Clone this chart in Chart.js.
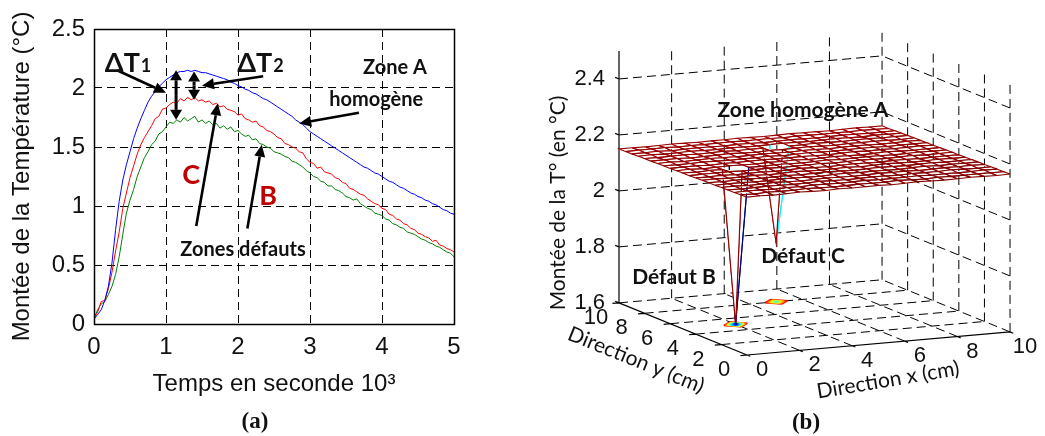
<!DOCTYPE html>
<html><head><meta charset="utf-8">
<script src="https://cdn.jsdelivr.net/npm/chart.js@4.4.1/dist/chart.umd.min.js"></script>
<style>
html,body{margin:0;padding:0;background:#fff;}
#wrap{position:relative;width:1045px;height:436px;overflow:hidden;background:#fff;}
#c1{position:absolute;left:0;top:0;}
#c2{position:absolute;left:520px;top:0;}
.lab{position:absolute;font-family:'Liberation Serif','Times New Roman',serif;font-weight:bold;font-size:23px;color:#111;transform:translate(-50%,-50%);white-space:nowrap;}
</style></head>
<body><div id="wrap">
<canvas id="c1" width="520" height="436"></canvas>
<canvas id="c2" width="525" height="436"></canvas>
<div class="lab" style="left:255px;top:421px">(a)</div>
<div class="lab" style="left:806px;top:422px">(b)</div>
</div>
<script>
// ---------- (a) data ----------
const timeK = [0,0.05,0.1,0.15,0.2,0.25,0.3,0.35,0.4,0.45,0.5,0.55,0.6,0.65,0.7,0.75,0.8,0.85,0.9,0.95,
1,1.05,1.1,1.15,1.2,1.25,1.3,1.35,1.4,1.45,1.5,1.55,1.6,1.65,1.7,1.75,1.8,1.85,1.9,1.95,
2,2.05,2.1,2.15,2.2,2.25,2.3,2.35,2.4,2.45,2.5,2.55,2.6,2.65,2.7,2.75,2.8,2.85,2.9,2.95,
3,3.05,3.1,3.15,3.2,3.25,3.3,3.35,3.4,3.45,3.5,3.55,3.6,3.65,3.7,3.75,3.8,3.85,3.9,3.95,
4,4.05,4.1,4.15,4.2,4.25,4.3,4.35,4.4,4.45,4.5,4.55,4.6,4.65,4.7,4.75,4.8,4.85,4.9,4.95,5];
const zoneA = [0.04,0.08,0.12,0.20,0.32,0.52,0.80,1.04,1.22,1.35,
1.46,1.57,1.66,1.74,1.81,1.88,1.93,1.97,2.01,2.04,
2.07,2.09,2.11,2.13,2.14,2.14,2.15,2.14,2.15,2.14,
2.13,2.13,2.12,2.11,2.10,2.09,2.08,2.07,2.05,2.04,
2.02,2.01,1.99,1.98,1.96,1.95,1.93,1.91,1.90,1.88,
1.86,1.84,1.82,1.80,1.78,1.76,1.73,1.71,1.69,1.66,
1.63,1.61,1.59,1.57,1.55,1.53,1.51,1.49,1.47,1.45,
1.43,1.41,1.39,1.37,1.35,1.33,1.32,1.30,1.28,1.27,
1.25,1.23,1.21,1.20,1.18,1.16,1.15,1.13,1.11,1.10,
1.08,1.07,1.05,1.04,1.02,1.01,0.99,0.97,0.96,0.94,
0.93];
const zoneC = [0.05,0.10,0.19,0.20,0.30,0.44,0.62,0.78,0.98,1.11,
1.24,1.34,1.44,1.52,1.58,1.63,1.68,1.74,1.76,1.82,
1.83,1.86,1.88,1.87,1.91,1.89,1.92,1.90,1.92,1.89,
1.90,1.88,1.89,1.86,1.87,1.84,1.85,1.82,1.81,1.80,
1.77,1.78,1.74,1.73,1.71,1.72,1.68,1.67,1.64,1.63,
1.61,1.58,1.57,1.53,1.52,1.50,1.49,1.46,1.45,1.40,
1.37,1.36,1.32,1.33,1.29,1.28,1.27,1.24,1.23,1.20,
1.19,1.15,1.14,1.12,1.10,1.09,1.06,1.04,1.02,1.01,
0.98,0.97,0.93,0.92,0.89,0.88,0.85,0.84,0.81,0.80,
0.77,0.76,0.74,0.73,0.70,0.71,0.67,0.66,0.64,0.63,
0.61];
const zoneB = [0.05,0.12,0.17,0.19,0.25,0.32,0.42,0.57,0.76,0.94,
1.05,1.14,1.25,1.33,1.41,1.46,1.52,1.55,1.61,1.63,
1.67,1.71,1.70,1.73,1.71,1.75,1.72,1.74,1.76,1.71,
1.73,1.70,1.72,1.69,1.70,1.66,1.68,1.65,1.67,1.63,
1.64,1.61,1.59,1.60,1.56,1.57,1.53,1.52,1.50,1.49,
1.46,1.45,1.44,1.42,1.41,1.38,1.37,1.35,1.33,1.30,
1.28,1.25,1.24,1.21,1.20,1.17,1.17,1.14,1.13,1.11,
1.08,1.07,1.05,1.06,1.02,1.00,0.98,0.97,0.94,0.93,
0.92,0.89,0.88,0.85,0.84,0.82,0.81,0.78,0.77,0.76,
0.74,0.72,0.71,0.69,0.68,0.66,0.65,0.63,0.61,0.60,
0.57];
const xTicksA = [0,1,2,3,4,5];
const yTicksA = [0,0.5,1,1.5,2,2.5];

// annotations (a), data coordinates
const arrowTails = [[0.32,2.15],[2.35,2.10],[3.68,1.79],[1.42,0.83],[2.13,0.81]];
const arrowHeads = [[1.00,1.96],[1.50,2.02],[2.85,1.70],[1.72,1.87],[2.33,1.52]];
const dblArrows = [[1.14,2.15,1.73],[1.39,2.14,1.90]];

// ---------- (b) data ----------
const gridX = [0,2,4,6,8,10];
const gridY = [0,2,4,6,8,10];
const gridZ = [1.6,1.8,2.0,2.2,2.4];
const zFloor = 1.6, zTop = 2.5;
const meshX = [0,0.5,1,1.5,2,2.5,3,3.5,4,4.5,5,5.5,6,6.5,7,7.5,8,8.5,9,9.5,10];
const meshY = [0,0.5,1,1.5,2,2.5,3,3.5,4,4.5,5,5.5,6,6.5,7,7.5,8,8.5,9,9.5,10];
const surfZ = [
[2.164,2.165,2.163,2.164,2.166,2.164,2.163,2.165,2.164,2.164,2.165,2.163,2.164,2.166,2.164,2.163,2.164,2.165,2.164,2.163,2.164],
[2.163,2.162,2.164,2.163,2.163,2.165,2.163,2.162,2.163,2.164,2.163,2.163,2.165,2.163,2.162,2.164,2.163,2.163,2.164,2.163,2.163],
[2.162,2.163,2.163,2.161,2.163,2.162,2.164,2.163,2.162,2.163,2.164,2.162,2.163,2.163,2.164,2.162,2.163,2.162,2.163,2.164,2.163],
[2.162,2.161,2.162,2.163,2.162,2.161,2.162,2.164,2.162,2.161,2.162,2.163,2.162,2.161,2.163,2.162,2.162,2.164,2.162,2.161,2.162],
[2.161,2.162,2.160,2.161,2.163,2.161,2.160,2.161,2.162,2.161,2.160,2.161,2.163,2.161,2.162,2.160,2.161,2.162,2.161,2.162,2.161],
[2.160,2.161,2.161,2.159,2.160,2.162,2.161,2.160,2.159,2.161,2.162,2.160,2.161,2.160,2.159,2.161,2.162,2.160,2.161,2.160,2.161],
[2.160,2.159,2.160,2.161,2.159,2.160,2.161,2.159,2.160,2.162,2.160,2.159,2.160,2.161,2.160,2.159,2.160,2.161,2.159,2.160,2.160],
[2.159,2.160,2.158,2.159,2.160,2.158,2.159,2.161,2.159,2.158,2.159,2.160,2.158,2.159,2.161,2.159,2.158,2.159,2.160,2.159,2.159],
[2.158,2.158,2.159,2.157,2.158,2.159,2.157,2.158,2.160,2.158,2.157,2.158,2.159,2.158,2.157,2.159,2.158,2.157,2.158,2.159,2.158],
[2.157,2.158,2.158,2.159,2.157,2.158,2.159,2.157,2.158,2.158,2.159,2.157,2.158,2.159,2.158,2.157,2.158,2.159,2.157,2.158,2.158],
[2.157,2.156,2.158,2.157,1.600,2.157,2.156,2.158,2.157,2.156,2.157,2.158,2.156,2.157,2.158,2.157,2.156,2.157,2.158,2.157,2.157],
[2.156,2.157,2.155,2.156,2.157,2.156,2.155,2.157,2.156,2.157,2.155,2.156,2.157,2.156,2.155,2.156,2.158,2.156,2.155,2.156,2.156],
[2.155,2.156,2.156,2.154,2.156,2.155,2.156,2.157,2.155,2.156,2.156,2.155,2.154,2.156,2.157,2.155,2.156,2.155,2.156,2.157,2.155],
[2.155,2.154,2.155,2.156,2.155,2.154,2.155,2.155,2.156,2.154,2.155,2.156,2.155,2.154,2.155,2.156,2.155,2.154,2.155,2.155,2.155],
[2.154,2.155,2.153,2.154,2.155,2.154,2.153,2.154,2.155,2.154,2.153,2.155,2.154,2.153,2.154,2.155,2.154,2.153,2.154,2.155,2.154],
[2.153,2.154,2.154,2.152,2.153,2.154,2.155,2.153,2.152,2.154,2.153,2.154,2.155,2.153,2.152,2.154,2.153,2.154,2.153,2.152,2.154],
[2.153,2.152,2.153,2.154,2.152,2.153,2.154,2.152,2.153,2.153,1.810,2.152,2.153,2.154,2.153,2.152,2.153,2.154,2.152,2.153,2.153],
[2.152,2.153,2.151,2.152,2.153,2.152,2.151,2.153,2.152,2.151,2.152,2.153,2.152,2.151,2.152,2.153,2.152,2.151,2.153,2.152,2.152],
[2.151,2.151,2.152,2.150,2.151,2.152,2.151,2.150,2.152,2.151,2.150,2.151,2.152,2.151,2.150,2.151,2.152,2.151,2.150,2.151,2.151],
[2.150,2.151,2.151,2.152,2.150,2.151,2.150,2.151,2.152,2.150,2.151,2.151,2.150,2.152,2.151,2.150,2.151,2.150,2.152,2.151,2.150],
[2.150,2.150,2.149,2.150,2.151,2.150,2.149,2.150,2.150,2.151,2.150,2.149,2.150,2.151,2.150,2.150,2.149,2.150,2.151,2.150,2.150]];
const contourLevels = [1.65,1.70,1.75,1.80,1.85,1.90,1.95,2.00,2.05,2.10];
const colorRange = [1.6, 2.166];

// ---------- chart (a) ----------
const SANS = "'Liberation Sans', Arial, sans-serif";
const CAL = "Lato, 'Open Sans', sans-serif";
const INK = '#111';

function arrow(ctx, x1, y1, x2, y2, hl, hw) {
  const a = Math.atan2(y2 - y1, x2 - x1);
  const bx = x2 - hl * Math.cos(a), by = y2 - hl * Math.sin(a);
  ctx.beginPath(); ctx.moveTo(x1, y1); ctx.lineTo(bx, by); ctx.stroke();
  ctx.beginPath(); ctx.moveTo(x2, y2);
  ctx.lineTo(bx + hw * Math.sin(a), by - hw * Math.cos(a));
  ctx.lineTo(bx - hw * Math.sin(a), by + hw * Math.cos(a));
  ctx.closePath(); ctx.fill();
}

const annoA = {
  id: 'annoA',
  afterDatasetsDraw(chart) {
    const {ctx, chartArea: a, scales: {x, y}} = chart;
    ctx.save();
    ctx.strokeStyle = '#000'; ctx.lineWidth = 1.5; ctx.setLineDash([]);
    ctx.strokeRect(Math.round(a.left) + 0.5, Math.round(a.top) + 0.5, Math.round(a.right - a.left), Math.round(a.bottom - a.top));
    ctx.fillStyle = '#000'; ctx.strokeStyle = '#000'; ctx.lineWidth = 2.6; ctx.lineCap = 'butt';
    arrowTails.forEach((t, i) => {
      const h = arrowHeads[i];
      arrow(ctx, x.getPixelForValue(t[0]), y.getPixelForValue(t[1]), x.getPixelForValue(h[0]), y.getPixelForValue(h[1]), 12, 5.5);
    });
    ctx.lineWidth = 3;
    dblArrows.forEach(d => {
      const X = x.getPixelForValue(d[0]), Y1 = y.getPixelForValue(d[1]), Y2 = y.getPixelForValue(d[2]);
      const m = (Y1 + Y2) / 2;
      arrow(ctx, X, m, X, Y1, 10, 6);
      arrow(ctx, X, m, X, Y2, 10, 6);
    });
    ctx.fillStyle = INK; ctx.textBaseline = 'alphabetic'; ctx.textAlign = 'left';
    const dT = (label, sub, t, v) => {
      const X = x.getPixelForValue(t), Y = y.getPixelForValue(v);
      ctx.font = 'bold 27px ' + CAL; ctx.fillText(label, X, Y);
      const w = ctx.measureText(label).width;
      ctx.font = 'bold 18px ' + CAL; ctx.fillText(sub, X + w + 1, Y);
    };
    dT('ΔT', '1', 0.15, 2.135);
    dT('ΔT', '2', 1.99, 2.135);
    ctx.textAlign = 'center'; ctx.textBaseline = 'middle';
    ctx.font = 'bold 20px ' + CAL;
    ctx.fillText('Zone A', x.getPixelForValue(4.18), y.getPixelForValue(2.17));
    ctx.fillText('homogène', x.getPixelForValue(3.92), y.getPixelForValue(1.90));
    ctx.fillText('Zones défauts', x.getPixelForValue(2.07), y.getPixelForValue(0.63));
    ctx.fillStyle = '#c00000'; ctx.font = 'bold 27px ' + CAL;
    ctx.fillText('C', x.getPixelForValue(1.35), y.getPixelForValue(1.26));
    ctx.fillText('B', x.getPixelForValue(2.42), y.getPixelForValue(1.08));
    ctx.restore();
  }
};

const mk = (arr) => timeK.map((t, i) => ({x: t, y: arr[i]}));
new Chart(document.getElementById('c1'), {
  type: 'line',
  data: {datasets: [
    {label: 'Zone A homogène', data: mk(zoneA), borderColor: '#0000ff', borderWidth: 1, pointRadius: 0, tension: 0},
    {label: 'Défaut C', data: mk(zoneC), borderColor: '#ff0000', borderWidth: 1, pointRadius: 0, tension: 0},
    {label: 'Défaut B', data: mk(zoneB), borderColor: '#008000', borderWidth: 1, pointRadius: 0, tension: 0}
  ]},
  options: {
    responsive: false, animation: false, devicePixelRatio: 1,
    layout: {padding: {left: 0, right: 66, top: 29, bottom: 0}},
    plugins: {legend: {display: false}, tooltip: {enabled: false}},
    scales: {
      x: {type: 'linear', min: 0, max: 5,
        afterBuildTicks: s => { s.ticks = xTicksA.map(v => ({value: v})); },
        afterFit: s => { s.height = 112; },
        ticks: {padding: 9, color: INK, font: {family: SANS, size: 24}, callback: v => String(v), maxRotation: 0},
        grid: {color: '#000', lineWidth: 1, drawTicks: false},
        border: {display: false, dash: [8, 5]},
        title: {display: true, text: 'Temps en seconde 10³', color: INK, font: {family: SANS, size: 24}, padding: {top: 0, bottom: 37}}
      },
      y: {type: 'linear', min: 0, max: 2.5,
        afterBuildTicks: s => { s.ticks = yTicksA.map(v => ({value: v})); },
        afterFit: s => { s.width = 94; },
        ticks: {padding: 9, color: INK, font: {family: SANS, size: 24}, callback: v => String(v)},
        grid: {color: '#000', lineWidth: 1, drawTicks: false},
        border: {display: false, dash: [8, 5]},
        title: {display: true, text: 'Montée de la Température (°C)', color: INK, font: {family: SANS, size: 24}, padding: {top: 8, bottom: 0}}
      }
    }
  },
  plugins: [annoA]
});

// ---------- chart (b) : 3D projection ----------
const AZ = 24.9 * Math.PI / 180, EL = 10.9 * Math.PI / 180;
const SX = 29.0, SY = 30.4, SZ = 285;
const CA = Math.cos(AZ), SA = Math.sin(AZ), CE = Math.cos(EL), SE = Math.sin(EL);
function proj(x, y, z) {
  return {x: SX * x * CA - SY * y * SA, y: (SX * x * SA + SY * y * CA) * SE + SZ * (z - zFloor) * CE};
}
function jet(v) {
  let t = (v - colorRange[0]) / (colorRange[1] - colorRange[0]);
  t = Math.max(0, Math.min(1, t));
  const c = q => Math.round(255 * Math.max(0, Math.min(1, 1.5 - Math.abs(4 * t - q))));
  return 'rgb(' + c(3) + ',' + c(2) + ',' + c(1) + ')';
}
function segData(list) {
  const d = [];
  list.forEach(([a, b]) => { const p = proj(...a), q = proj(...b); d.push(p, q, {x: q.x, y: null}); });
  return d;
}
const xMax = gridX[gridX.length - 1], yMax = gridY[gridY.length - 1];
const dashed = [];
gridX.slice(1, -1).forEach(g => dashed.push([[g, 0, zFloor], [g, yMax, zFloor]]));
gridY.slice(1, -1).forEach(g => dashed.push([[0, g, zFloor], [xMax, g, zFloor]]));
gridX.slice(1).forEach(g => dashed.push([[g, yMax, zFloor], [g, yMax, zTop]]));
gridY.slice(0, -1).forEach(g => dashed.push([[xMax, g, zFloor], [xMax, g, zTop]]));
gridZ.forEach(g => { dashed.push([[0, yMax, g], [xMax, yMax, g]]); dashed.push([[xMax, 0, g], [xMax, yMax, g]]); });
const solid = [
  [[0, yMax, zFloor], [0, yMax, zTop]],
  [[0, yMax, zFloor], [0, 0, zFloor]],
  [[0, 0, zFloor], [xMax, 0, zFloor]]
];
gridZ.forEach(g => solid.push([[0, yMax, g], [0, yMax + 0.3, g]]));
gridY.forEach(g => solid.push([[0, g, zFloor], [-0.25, g, zFloor]]));
gridX.forEach(g => solid.push([[g, 0, zFloor], [g, -0.25, zFloor]]));

const ds = [];
ds.push({data: segData(dashed), borderColor: '#000', borderWidth: 1, borderDash: [9, 5], pointRadius: 0, spanGaps: false, order: 1000000, fill: false});
ds.push({data: segData(solid), borderColor: '#000', borderWidth: 1.2, pointRadius: 0, spanGaps: false, order: 999999, fill: false});

// floor contours
contourLevels.forEach(L => {
  const d = [];
  for (let j = 0; j < meshY.length - 1; j++) for (let i = 0; i < meshX.length - 1; i++) {
    const E = [[[i, j], [i + 1, j]], [[i + 1, j], [i + 1, j + 1]], [[i, j + 1], [i + 1, j + 1]], [[i, j], [i, j + 1]]];
    const pts = [];
    E.forEach(([a, b]) => {
      const za = surfZ[a[1]][a[0]], zb = surfZ[b[1]][b[0]];
      if ((za - L) * (zb - L) < 0) {
        const t = (L - za) / (zb - za);
        pts.push(proj(meshX[a[0]] + t * (meshX[b[0]] - meshX[a[0]]), meshY[a[1]] + t * (meshY[b[1]] - meshY[a[1]]), zFloor));
      }
    });
    for (let k = 0; k + 1 < pts.length; k += 2) d.push(pts[k], pts[k + 1], {x: pts[k + 1].x, y: null});
  }
  ds.push({data: d, borderColor: jet(L), borderWidth: 1.6, pointRadius: 0, spanGaps: false, order: 999990, fill: false});
});

// surface mesh as white quads, painter's order
const quads = [];
for (let j = 0; j < meshY.length - 1; j++) for (let i = 0; i < meshX.length - 1; i++) {
  const P = [[i, j], [i + 1, j], [i + 1, j + 1], [i, j + 1], [i, j]];
  const pts = P.map(([a, b]) => proj(meshX[a], meshY[b], surfZ[b][a]));
  const cols = [jet(surfZ[j][i]), jet(surfZ[j][i + 1]), jet(surfZ[j + 1][i]), jet(surfZ[j][i])];
  const depth = SX * (meshX[i] + meshX[i + 1]) / 2 * SA + SY * (meshY[j] + meshY[j + 1]) / 2 * CA;
  quads.push({pts, cols, depth});
}
quads.sort((a, b) => a.depth - b.depth);
quads.forEach((q, k) => ds.push({
  data: q.pts, order: k, fill: 'shape', backgroundColor: '#ffffff', borderColor: q.cols[0], borderWidth: 1.1,
  segment: {borderColor: c => q.cols[c.p0DataIndex]}, pointRadius: 0, tension: 0
}));

const textB = {
  id: 'textB',
  afterDraw(chart) {
    const {ctx, scales: {x: sx, y: sy}} = chart;
    const px = p => [sx.getPixelForValue(p.x), sy.getPixelForValue(p.y)];
    ctx.save(); ctx.fillStyle = INK;
    ctx.font = '22px ' + SANS; ctx.textBaseline = 'middle';
    ctx.textAlign = 'right';
    gridZ.forEach(z => { const [X, Y] = px(proj(0, yMax, z)); ctx.fillText(String(z), X - 14, Y); });
    ctx.textAlign = 'center';
    gridY.forEach(v => { const [X, Y] = px(proj(0, v, zFloor)); ctx.fillText(String(v), X - 23, Y + 15); });
    gridX.forEach(v => { const [X, Y] = px(proj(v, 0, zFloor)); ctx.fillText(String(v), X + 15, Y + 15); });
    const rot = (txt, cx, cy, ang, font) => {
      ctx.save(); ctx.translate(cx, cy); ctx.rotate(ang * Math.PI / 180); ctx.font = font; ctx.fillText(txt, 0, 0); ctx.restore();
    };
    rot('Direction y (cm)', 116, 360, 22, '21px ' + CAL);
    rot('Direction x (cm)', 368, 380, -9.5, '21px ' + CAL);
    rot('Montée de la T° (en °C)', 38, 203, -90, '21px ' + CAL);
    ctx.font = 'bold 21px ' + CAL;
    ctx.fillText('Zone homogène A', 283, 110);
    ctx.fillText('Défaut B', 154, 277);
    ctx.fillText('Défaut C', 283, 256);
    ctx.restore();
  }
};

new Chart(document.getElementById('c2'), {
  type: 'line',
  data: {datasets: ds},
  options: {
    responsive: false, animation: false, devicePixelRatio: 1,
    layout: {padding: 0},
    plugins: {legend: {display: false}, tooltip: {enabled: false}},
    elements: {line: {tension: 0}},
    scales: {
      x: {type: 'linear', display: false, min: -227, max: 298},
      y: {type: 'linear', display: false, min: -81, max: 355}
    }
  },
  plugins: [textB]
});
</script>
</body></html>
